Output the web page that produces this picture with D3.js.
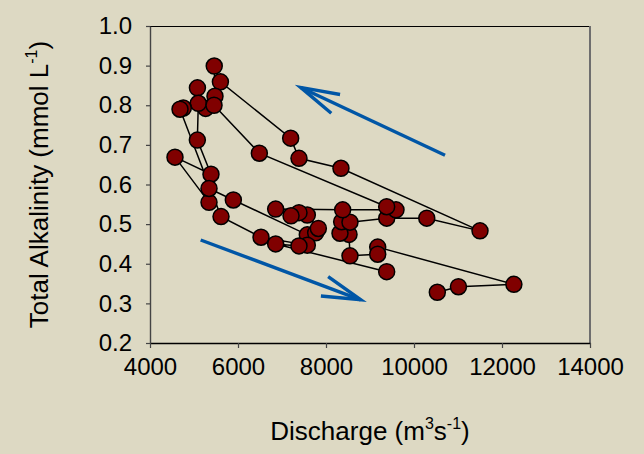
<!DOCTYPE html>
<html>
<head>
<meta charset="utf-8">
<script src="https://cdn.jsdelivr.net/npm/d3@7"></script>
<style>
  html, body { margin: 0; padding: 0; background: #DDD9C3; }
  svg { display: block; font-family: "Liberation Sans", Arial, sans-serif; }
</style>
</head>
<body>
<div id="chart"></div>
<script>
// Sampling sequence: river discharge (m3/s) and total alkalinity (mmol/L)
const discharge = [
  10530, 11010, 12270, 9175, 9175, 8545, 8523, 8318, 8356, 8545,
  9380, 10290, 11500, 8340, 7386, 7197, 5600, 5460, 5477, 5265,
  5078, 5098, 5076, 5386, 4568, 5341, 5341, 5894, 7575, 7765,
  7826, 7575, 7386, 7205, 6856, 8379, 9591, 9379, 6485, 5455,
  4757, 4682, 5614, 6523, 7575, 7386, 6856, 9379
];
const alkalinity = [
  0.328, 0.342, 0.348, 0.442, 0.424, 0.420, 0.474, 0.477, 0.506, 0.505,
  0.515, 0.515, 0.483, 0.641, 0.666, 0.717, 0.859, 0.899, 0.823, 0.792,
  0.844, 0.805, 0.712, 0.626, 0.669, 0.555, 0.590, 0.561, 0.473, 0.478,
  0.489, 0.523, 0.529, 0.521, 0.538, 0.536, 0.536, 0.544, 0.679, 0.800,
  0.793, 0.790, 0.519, 0.467, 0.447, 0.445, 0.450, 0.380
];
const xTickValues = [4000, 6000, 8000, 10000, 12000, 14000];
const yTickValues = [0.2, 0.3, 0.4, 0.5, 0.6, 0.7, 0.8, 0.9, 1.0];

// Direction arrows (tail -> head) in data units
const arrowTails = [[10705, 0.674], [5152, 0.460]];
const arrowHeads = [[7425, 0.845], [8789, 0.309]];

const W = 644, H = 454;
const plot = { left: 150, right: 590, top: 26, bottom: 343 };
const bg = "#DDD9C3";

const svg = d3.select("#chart").append("svg")
  .attr("width", W).attr("height", H);

svg.append("rect").attr("width", W).attr("height", H).attr("fill", bg);

const x = d3.scaleLinear().domain([4000, 14000]).range([plot.left, plot.right]);
const y = d3.scaleLinear().domain([0.2, 1.0]).range([plot.bottom, plot.top]);

// plot frame: top edge black, right edge grey
svg.append("line")
  .attr("x1", plot.left).attr("x2", plot.right)
  .attr("y1", plot.top + 0.5).attr("y2", plot.top + 0.5)
  .attr("stroke", "#000").attr("stroke-width", 1.2);
svg.append("line")
  .attr("x1", plot.right).attr("x2", plot.right)
  .attr("y1", plot.top).attr("y2", plot.bottom)
  .attr("stroke", "#6e6e6e").attr("stroke-width", 2);

// axes
const xAxis = d3.axisBottom(x).tickValues(xTickValues).tickFormat(d3.format("d"))
  .tickSizeOuter(0).tickSizeInner(5).tickPadding(10);
const yAxis = d3.axisLeft(y).tickValues(yTickValues).tickFormat(d3.format(".1f"))
  .tickSizeOuter(0).tickSizeInner(4).tickPadding(14);

const gx = svg.append("g").attr("transform", `translate(0,${plot.bottom})`).call(xAxis);
const gy = svg.append("g").attr("transform", `translate(${plot.left},0)`).call(yAxis);

gx.select(".domain").attr("stroke", "#000").attr("stroke-width", 1.4);
gy.select(".domain").attr("stroke", "#444").attr("stroke-width", 1.4);
gx.selectAll(".tick line").attr("stroke", "#444").attr("stroke-width", 1.2);
gy.selectAll(".tick line").attr("stroke", "#444").attr("stroke-width", 1.2);
[gx, gy].forEach(g => g.selectAll(".tick text")
  .attr("fill", "#000").style("font-size", "24px")
  .style("font-family", '"Liberation Sans", Arial, sans-serif'));

// axis titles
const yTitle = svg.append("text")
  .attr("transform", `translate(48,${(plot.top + plot.bottom) / 2}) rotate(-90)`)
  .attr("text-anchor", "middle")
  .style("font-size", "26px").attr("fill", "#000");
yTitle.append("tspan").text("Total Alkalinity (mmol L");
yTitle.append("tspan").attr("dy", -11).style("font-size", "16px").text("-1");
yTitle.append("tspan").attr("dy", 11).text(")");

const xTitle = svg.append("text")
  .attr("x", (plot.left + plot.right) / 2).attr("y", 440)
  .attr("text-anchor", "middle")
  .style("font-size", "26px").attr("fill", "#000");
xTitle.append("tspan").text("Discharge (m");
xTitle.append("tspan").attr("dy", -11).style("font-size", "16px").text("3");
xTitle.append("tspan").attr("dy", 11).text("s");
xTitle.append("tspan").attr("dy", -11).style("font-size", "16px").text("-1");
xTitle.append("tspan").attr("dy", 11).text(")");

// direction arrows
const arrowColor = "#0056A6";
arrowTails.forEach((tail, i) => {
  const head = arrowHeads[i];
  const tx = x(tail[0]), ty = y(tail[1]);
  const hx = x(head[0]), hy = y(head[1]);
  const ang = Math.atan2(ty - hy, tx - hx);
  const len = 40, spread = 15 * Math.PI / 180;
  const a1 = [hx + len * Math.cos(ang + spread), hy + len * Math.sin(ang + spread)];
  const a2 = [hx + len * Math.cos(ang - spread), hy + len * Math.sin(ang - spread)];
  const g = svg.append("g").attr("stroke", arrowColor).attr("stroke-width", 3.4)
    .attr("fill", "none").attr("stroke-linecap", "butt");
  g.append("line").attr("x1", tx).attr("y1", ty).attr("x2", hx).attr("y2", hy);
  g.append("path").attr("d", `M${a1[0]},${a1[1]}L${hx},${hy}L${a2[0]},${a2[1]}`)
    .attr("stroke-linejoin", "miter");
});

// data series
const pts = discharge.map((q, i) => ({ q, a: alkalinity[i] }));

svg.append("path")
  .datum(pts)
  .attr("fill", "none")
  .attr("stroke", "#000")
  .attr("stroke-width", 1.5)
  .attr("d", d3.line().x(d => x(d.q)).y(d => y(d.a)));

svg.append("g").selectAll("circle")
  .data(pts)
  .join("circle")
  .attr("cx", d => x(d.q))
  .attr("cy", d => y(d.a))
  .attr("r", 8)
  .attr("fill", "#800000")
  .attr("stroke", "#000")
  .attr("stroke-width", 1.5);
</script>
</body>
</html>
